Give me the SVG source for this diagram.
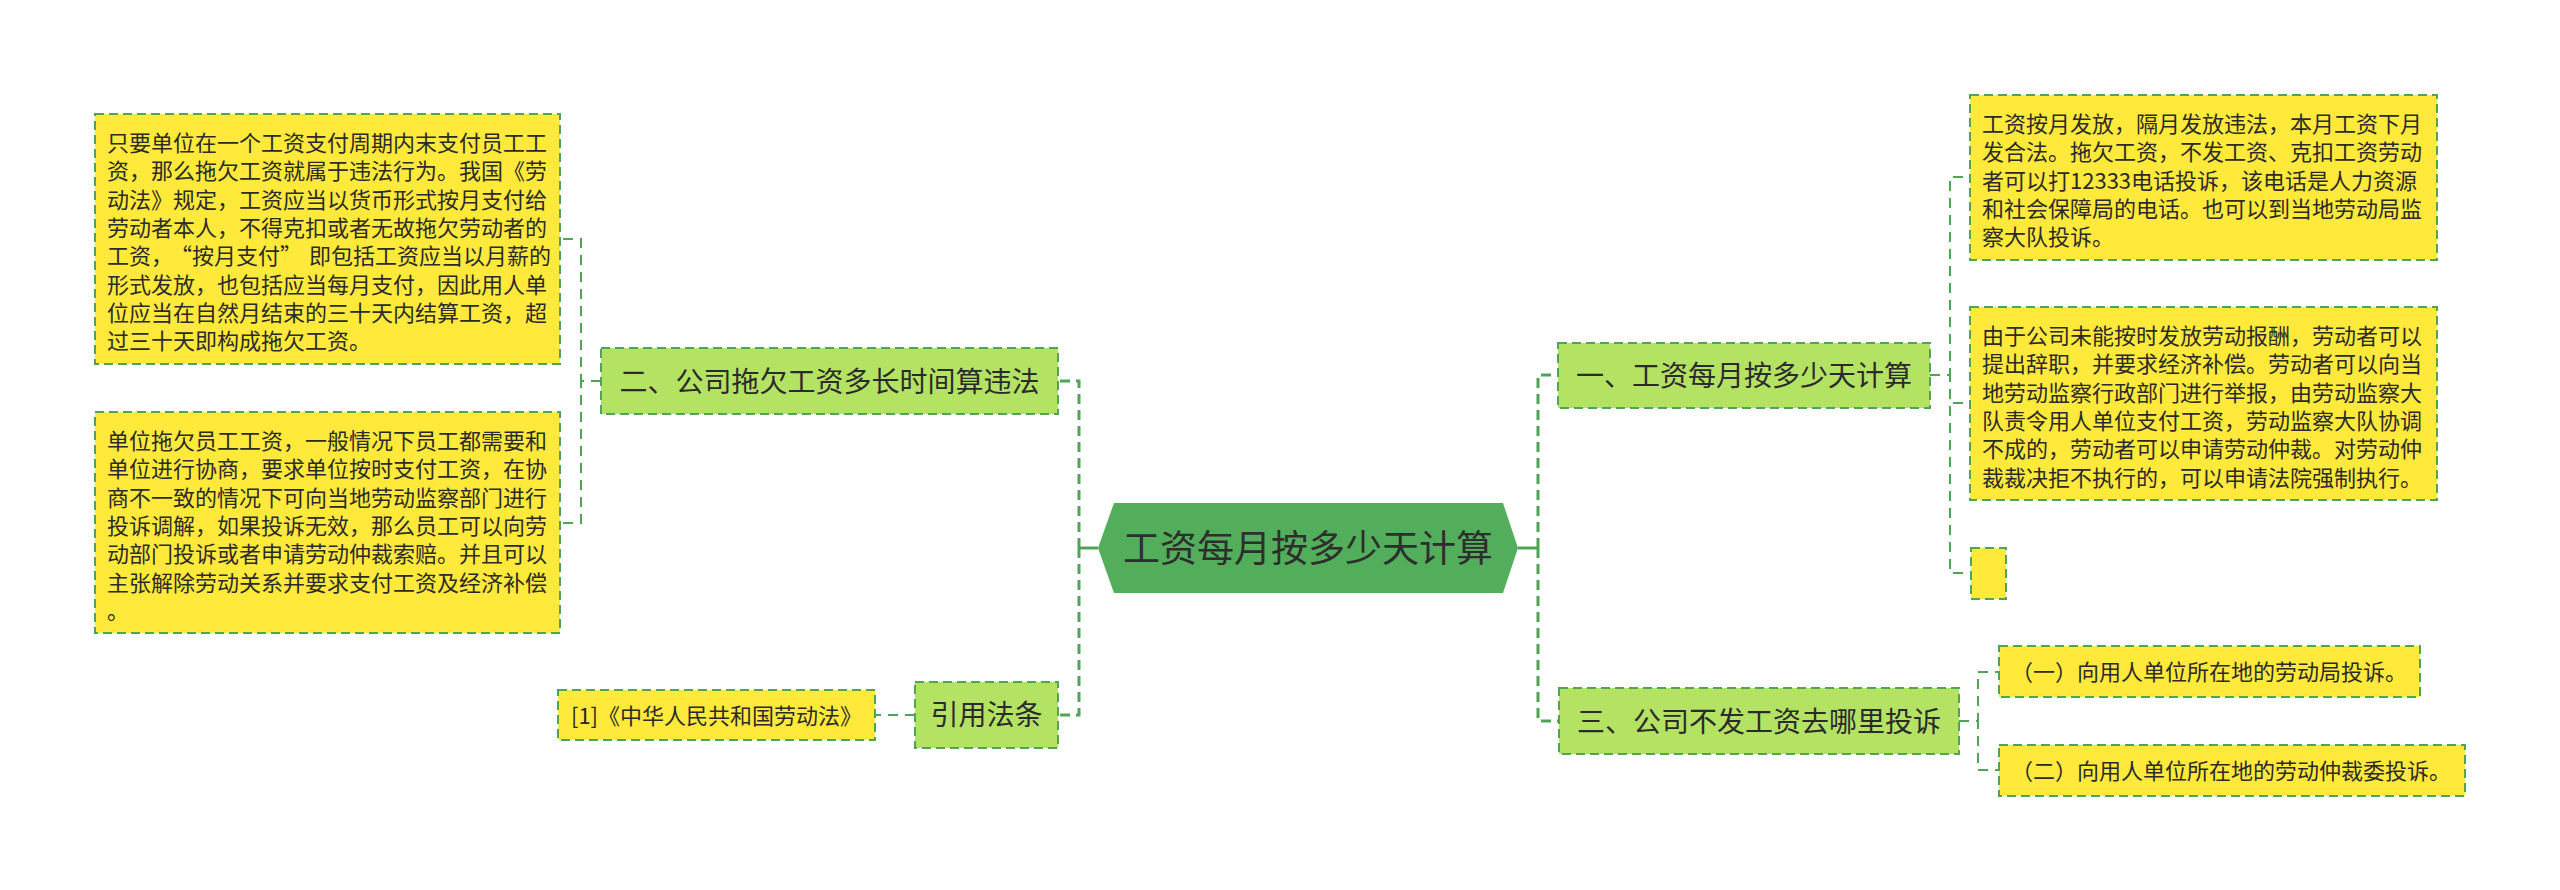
<svg xmlns="http://www.w3.org/2000/svg" width="2560" height="890" viewBox="0 0 2560 890">
<style>
.bg{fill:#ffffff}
.leaf{fill:#ffe93a;stroke:#4fa556;stroke-width:2;stroke-dasharray:9 5}
.l1{fill:#b4e262;stroke:#4fa556;stroke-width:2;stroke-dasharray:9 5}
.root{fill:#52ae5a}
.t{font-family:"Noto Sans CJK SC","Noto Sans",sans-serif;fill:#2b2b2b}
.tl{font-size:22px}
.t1{font-size:28px;text-anchor:middle}
.tr{font-size:37px;text-anchor:middle;fill:#2e2e2e}
.c1{fill:none;stroke:#4fa556;stroke-width:3;stroke-dasharray:10 6}
.c2{fill:none;stroke:#4fa556;stroke-width:2;stroke-dasharray:10 7}
.cs{fill:none;stroke:#4fa556;stroke-width:3}
</style>
<rect class="bg" x="0" y="0" width="2560" height="890"/>
<g id="connectors">
  <path class="cs" d="M1098,548 H1079"/>
  <path class="c1" d="M1079,548 V381 H1058"/>
  <path class="c1" d="M1079,548 V715 H1058"/>
  <path class="cs" d="M1518,548 H1538"/>
  <path class="c1" d="M1538,548 V375 H1558"/>
  <path class="c1" d="M1538,548 V721 H1559"/>
  <path class="c2" d="M601,381 H581 V239 H560"/>
  <path class="c2" d="M601,381 H581 V523 H560"/>
  <path class="c2" d="M915,715 H875"/>
  <path class="c2" d="M1930,375 H1950 V177 H1970"/>
  <path class="c2" d="M1930,375 H1950 V403 H1970"/>
  <path class="c2" d="M1930,375 H1950 V573 H1971"/>
  <path class="c2" d="M1959,721 H1978 V672 H1999"/>
  <path class="c2" d="M1959,721 H1978 V770 H1999"/>
</g>
<g id="root">
  <polygon class="root" points="1098,548 1114,503 1503,503 1518,548 1503,593 1114,593"/>
  <text class="t tr" x="1308" y="562">工资每月按多少天计算</text>
</g>
<g id="n2">
  <rect class="l1" x="601" y="348" width="457" height="66"/>
  <text class="t t1" x="829.5" y="392">二、公司拖欠工资多长时间算违法</text>
</g>
<g id="n2a">
  <rect class="leaf" x="95" y="114" width="465" height="250"/>
  <text class="t tl" x="107" y="151">只要单位在一个工资支付周期内末支付员工工</text>
  <text class="t tl" x="107" y="179.3">资，那么拖欠工资就属于违法行为。我国《劳</text>
  <text class="t tl" x="107" y="207.6">动法》规定，工资应当以货币形式按月支付给</text>
  <text class="t tl" x="107" y="235.9">劳动者本人，不得克扣或者无故拖欠劳动者的</text>
  <text class="t tl" x="107" y="264.2">工资，<tspan dx="8">“按月支付”</tspan><tspan dx="7">即包括工资应当以月薪的</tspan></text>
  <text class="t tl" x="107" y="292.5">形式发放，也包括应当每月支付，因此用人单</text>
  <text class="t tl" x="107" y="320.8">位应当在自然月结束的三十天内结算工资，超</text>
  <text class="t tl" x="107" y="349.1">过三十天即构成拖欠工资。</text>
</g>
<g id="n2b">
  <rect class="leaf" x="95" y="412" width="465" height="221"/>
  <text class="t tl" x="107" y="449">单位拖欠员工工资，一般情况下员工都需要和</text>
  <text class="t tl" x="107" y="477.3">单位进行协商，要求单位按时支付工资，在协</text>
  <text class="t tl" x="107" y="505.6">商不一致的情况下可向当地劳动监察部门进行</text>
  <text class="t tl" x="107" y="533.9">投诉调解，如果投诉无效，那么员工可以向劳</text>
  <text class="t tl" x="107" y="562.2">动部门投诉或者申请劳动仲裁索赔。并且可以</text>
  <text class="t tl" x="107" y="590.5">主张解除劳动关系并要求支付工资及经济补偿</text>
  <text class="t tl" x="107" y="618.8">。</text>
</g>
<g id="n4">
  <rect class="l1" x="915" y="682" width="143" height="66"/>
  <text class="t t1" x="986.5" y="725">引用法条</text>
</g>
<g id="n4a">
  <rect class="leaf" x="558" y="690" width="317" height="50"/>
  <text class="t tl" x="716.5" y="723.5" text-anchor="middle">[1]《中华人民共和国劳动法》</text>
</g>
<g id="n1">
  <rect class="l1" x="1558" y="343" width="372" height="65"/>
  <text class="t t1" x="1744" y="386">一、工资每月按多少天计算</text>
</g>
<g id="n1a">
  <rect class="leaf" x="1970" y="95" width="467" height="165"/>
  <text class="t tl" x="1982" y="132">工资按月发放，隔月发放违法，本月工资下月</text>
  <text class="t tl" x="1982" y="160.3">发合法。拖欠工资，不发工资、克扣工资劳动</text>
  <text class="t tl" x="1982" y="188.6">者可以打12333电话投诉，该电话是人力资源</text>
  <text class="t tl" x="1982" y="216.9">和社会保障局的电话。也可以到当地劳动局监</text>
  <text class="t tl" x="1982" y="245.2">察大队投诉。</text>
</g>
<g id="n1b">
  <rect class="leaf" x="1970" y="307" width="467" height="193"/>
  <text class="t tl" x="1982" y="344">由于公司未能按时发放劳动报酬，劳动者可以</text>
  <text class="t tl" x="1982" y="372.3">提出辞职，并要求经济补偿。劳动者可以向当</text>
  <text class="t tl" x="1982" y="400.6">地劳动监察行政部门进行举报，由劳动监察大</text>
  <text class="t tl" x="1982" y="428.9">队责令用人单位支付工资，劳动监察大队协调</text>
  <text class="t tl" x="1982" y="457.2">不成的，劳动者可以申请劳动仲裁。对劳动仲</text>
  <text class="t tl" x="1982" y="485.5">裁裁决拒不执行的，可以申请法院强制执行。</text>
</g>
<g id="n1c">
  <rect class="leaf" x="1971" y="548" width="35" height="51"/>
</g>
<g id="n3">
  <rect class="l1" x="1559" y="688" width="400" height="66"/>
  <text class="t t1" x="1759" y="732">三、公司不发工资去哪里投诉</text>
</g>
<g id="n3a">
  <rect class="leaf" x="1999" y="646" width="421" height="51"/>
  <text class="t tl" x="2011" y="680">（一）向用人单位所在地的劳动局投诉。</text>
</g>
<g id="n3b">
  <rect class="leaf" x="1999" y="745" width="466" height="51"/>
  <text class="t tl" x="2011" y="779">（二）向用人单位所在地的劳动仲裁委投诉。</text>
</g>
</svg>
